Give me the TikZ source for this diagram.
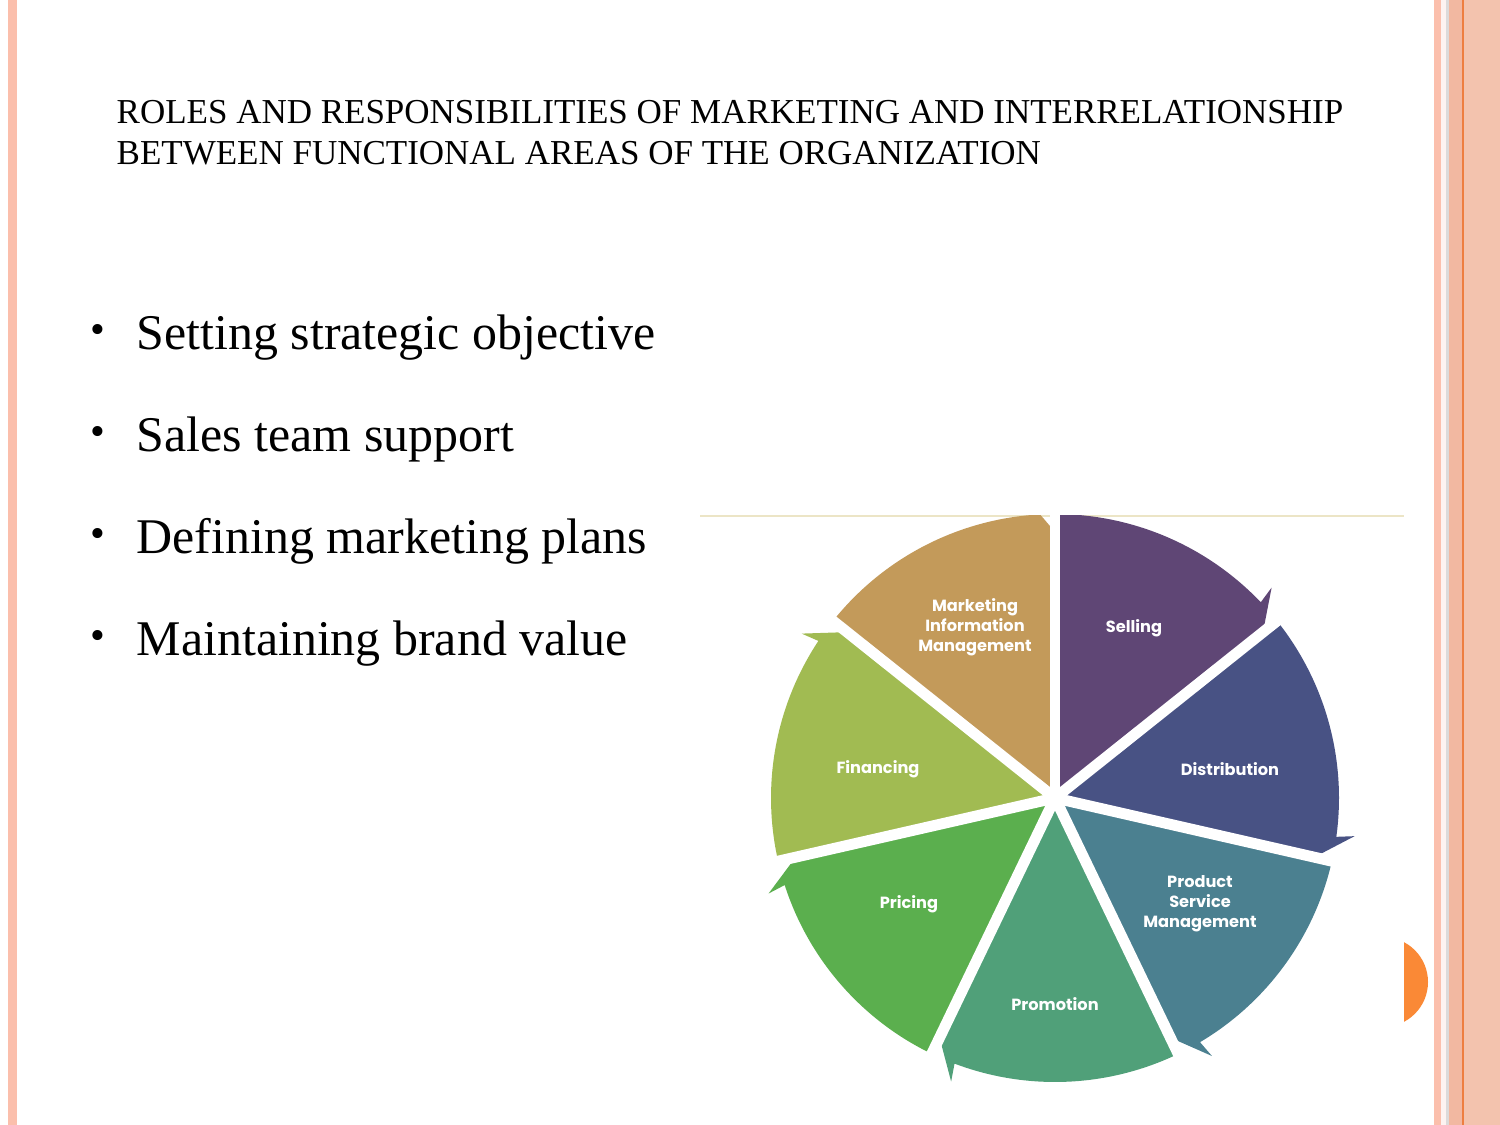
\documentclass[tikz,border=0pt]{standalone}
\usepackage{fontspec}
\setmainfont{Liberation Serif}
\newfontfamily\piefont{Poppins}

\definecolor{stripeSalmon}{HTML}{FBBFAC}
\definecolor{stripeDeep}{HTML}{F2B8A1}
\definecolor{stripeLight}{HTML}{F3C3AE}
\definecolor{stripeOrange}{HTML}{EE7E40}
\definecolor{stripeGrey}{HTML}{DCDADA}
\definecolor{stripePale}{HTML}{FDF3F1}
\definecolor{dotOrange}{HTML}{FA8936}
\definecolor{frameBeige}{HTML}{ECE5C6}
\definecolor{mimTan}{HTML}{C39A5A}
\definecolor{sellPurple}{HTML}{5F4675}
\definecolor{distBlue}{HTML}{485284}
\definecolor{psmTeal}{HTML}{4B8090}
\definecolor{promoGreen}{HTML}{50A079}
\definecolor{priceGreen}{HTML}{5BAF4E}
\definecolor{finOlive}{HTML}{A1BB52}

\begin{document}
\begin{tikzpicture}[x=0.01cm, y=-0.01cm,
    titleline/.style={anchor=base west, inner sep=0, font=\fontsize{9.95}{12}\selectfont},
    bullettext/.style={anchor=base west, inner sep=0, font=\fontsize{14.2}{17}\selectfont},
    bulletdot/.style={anchor=center, inner sep=0, font=\fontsize{12}{14}\selectfont},
    pielabel/.style={text=white, align=center, inner sep=0, font=\piefont\bfseries\fontsize{4.6}{5.7}\selectfont},
    gapline/.style={white, line width=3.1pt}]

    % Slide background
    \fill[white] (0,0) rectangle (1500,1125);
    \useasboundingbox (0,0) rectangle (1500,1125);

    % Left border stripe
    \fill[stripeSalmon] (8,0) rectangle (17,1125);

    % Right border stripes
    \fill[stripeSalmon] (1434,0) rectangle (1441,1125);
    \fill[stripePale] (1441,0) rectangle (1446,1125);
    \fill[stripeGrey] (1446,0) rectangle (1449,1125);
    \fill[stripeDeep] (1449,0) rectangle (1462,1125);
    \fill[stripeOrange] (1462,0) rectangle (1463.5,1125);
    \fill[stripeLight] (1463.5,0) rectangle (1500,1125);

    % Orange dot, half hidden behind the picture
    \fill[dotOrange] (1383,982) circle[radius=45];
    \fill[white] (700,516) rectangle (1404,1125);
    \draw[frameBeige, line width=0.5pt] (700,516) -- (1404,516);

    % Title
    \node[titleline] (title1) at (116,124) {ROLES AND RESPONSIBILITIES OF MARKETING AND INTERRELATIONSHIP};
    \node[titleline] (title2) at (116,165) {BETWEEN FUNCTIONAL AREAS OF THE ORGANIZATION};

    % Bullet list
    \node[bulletdot] (dot1) at (98,334) {\textbullet};
    \node[bullettext] (item1) at (136,350) {Setting strategic objective};
    \node[bulletdot] (dot2) at (98,436) {\textbullet};
    \node[bullettext] (item2) at (136,452) {Sales team support};
    \node[bulletdot] (dot3) at (98,538) {\textbullet};
    \node[bullettext] (item3) at (136,554) {Defining marketing plans};
    \node[bulletdot] (dot4) at (98,640) {\textbullet};
    \node[bullettext] (item4) at (136,656) {Maintaining brand value};

    % Wheel of functional areas
    \begin{scope}
        \clip (700,516) rectangle (1404,1125);
        \begin{scope}[shift={(1055,798)}, yscale=-1]
            \foreach \k/\col in {0/sellPurple, 1/distBlue, 2/psmTeal, 3/promoGreen, 4/priceGreen, 5/finOlive, 6/mimTan} {
                \pgfmathsetmacro\a{90-51.43*\k}
                \pgfmathsetmacro\b{\a-51.43}
                \fill[\col] (0,0) -- (\a:284) arc[start angle=\a, end angle=\b+5, radius=284]
                    -- (\b+5.6:302) -- (\b:266) -- cycle;
            }
            % white gaps between the segments
            \foreach \k in {0,...,6}
                \draw[gapline] (0,0) -- ({90-51.43*\k}:310);
            \fill[white] (0,0) circle[radius=9];
        \end{scope}
    \end{scope}

    % Segment labels
    \node[pielabel] (mim) at (975,627) {Marketing\\Information\\Management};
    \node[pielabel] (sell) at (1134,628) {Selling};
    \node[pielabel] (dist) at (1230,769) {Distribution};
    \node[pielabel] (psm) at (1200,904) {Product\\Service\\Management};
    \node[pielabel] (promo) at (1055,1004) {Promotion};
    \node[pielabel] (price) at (909,904) {Pricing};
    \node[pielabel] (fin) at (878,769) {Financing};

\end{tikzpicture}
\end{document}
